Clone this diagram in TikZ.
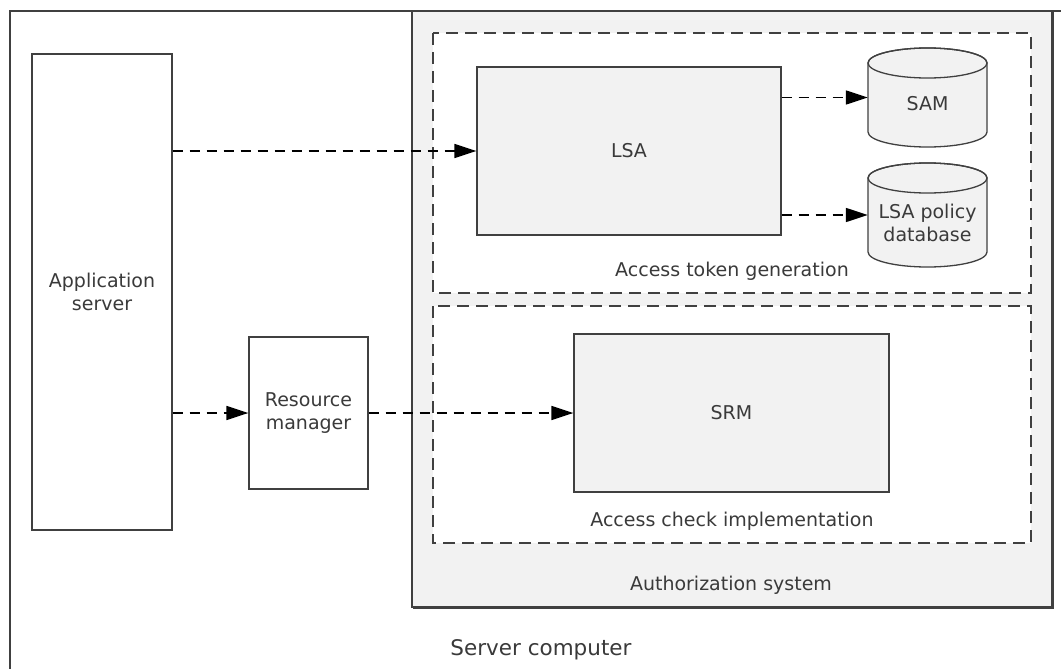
\documentclass[tikz,border=0pt]{standalone}
\usepackage{fontspec}
\setmainfont{DejaVu Sans}
\usetikzlibrary{arrows.meta}
\definecolor{boxgray}{HTML}{F2F2F2}
\definecolor{linegray}{HTML}{404040}
\definecolor{txtgray}{HTML}{3A3A3A}
\begin{document}
\begin{tikzpicture}[x=1pt,y=-1pt,
  every node/.style={font=\fontsize{19}{23}\selectfont, text=txtgray, align=center, inner sep=0pt},
  box/.style={draw=linegray, line width=1.3pt, fill=white},
  graybox/.style={draw=linegray, line width=1.3pt, fill=boxgray},
  dashbox/.style={draw=linegray, line width=1.5pt, fill=white, dash pattern=on 12pt off 7pt},
  flow/.style={draw=black, line width=1.6pt, dash pattern=on 10pt off 7pt, -{Triangle[length=22pt,width=14pt]}},
  cyl/.style={draw=linegray, line width=1.3pt, fill=boxgray}
]
\useasboundingbox (0,0) rectangle (1061,669);
\clip (0,0) rectangle (1061,669);
% outer server computer box (cut by the picture edge)
\draw[linegray, line width=1.5pt, fill=white] (10,11) rectangle (1080,690);
% authorization system
\draw[graybox, line width=1.5pt] (412,11) rectangle (1052,607);
\draw[linegray, line width=1.2pt] (1053.5,12) -- (1053.5,608.5) -- (413,608.5);
\node (authlbl) at (731,585) {Authorization system};
% dashed groups
\draw[dashbox] (433,33) rectangle (1031,293);
\draw[dashbox] (433,306) rectangle (1031,543);
\node (toklbl) at (732,271) {Access token generation};
\node (chklbl) at (732,521) {Access check implementation};
\node[font=\fontsize{21.5}{25}\selectfont] (srvlbl) at (541,650) {Server computer};
% boxes
\node[box, minimum width=140pt, minimum height=476pt] (app) at (102,292) {Application\\server};
\node[box, minimum width=119pt, minimum height=152pt] (rm) at (308.5,413) {Resource\\manager};
\node[graybox, minimum width=304pt, minimum height=168pt] (lsa) at (629,151) {LSA};
\node[graybox, minimum width=315pt, minimum height=158pt] (srm) at (731.5,413) {SRM};
% cylinders
\node[minimum width=119pt, minimum height=99pt] (sam) at (927.5,97.5) {};
\node[minimum width=119pt, minimum height=104pt] (db) at (927.5,215) {};
\draw[cyl] (868,63) -- (868,132) arc[start angle=180, end angle=360, x radius=59.5pt, y radius=15pt]
  -- (987,63) arc[start angle=0, end angle=180, x radius=59.5pt, y radius=15pt] -- cycle;
\draw[linegray, line width=1.3pt] (927.5,63) ellipse[x radius=59.5pt, y radius=15pt];
\node (samtxt) at (927.5,104) {SAM};
\draw[cyl] (868,178) -- (868,252) arc[start angle=180, end angle=360, x radius=59.5pt, y radius=15pt]
  -- (987,178) arc[start angle=0, end angle=180, x radius=59.5pt, y radius=15pt] -- cycle;
\draw[linegray, line width=1.3pt] (927.5,178) ellipse[x radius=59.5pt, y radius=15pt];
\node (dbtxt) at (927.5,223) {LSA policy\\database};
% connectors
\draw[flow] (app.east |- lsa.west) -- (lsa.west);
\draw[flow] (app.east |- rm.west) -- (rm.west);
\draw[flow] (rm.east) -- (srm.west);
\draw[flow] (lsa.east |- sam.west) -- (sam.west);
\draw[flow] (lsa.east |- db.west) -- (db.west);
\end{tikzpicture}
\end{document}
